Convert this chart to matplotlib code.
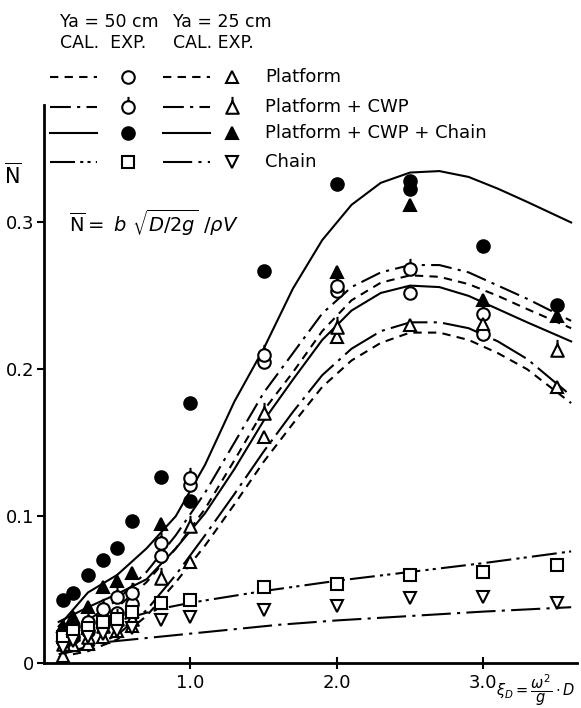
import matplotlib
matplotlib.use('Agg')
import matplotlib.pyplot as plt
from matplotlib.lines import Line2D
from matplotlib.path import Path

# calculated curves (CAL.)
CAL_X = [0.1, 0.3, 0.5, 0.7, 0.9, 1.1, 1.3, 1.5, 1.7, 1.9, 2.1, 2.3, 2.5, 2.7, 2.9, 3.1, 3.3, 3.6]
PCC_50 = [0.025, 0.048, 0.060, 0.078, 0.100, 0.135, 0.178, 0.214, 0.255, 0.288, 0.312, 0.327, 0.334, 0.335, 0.331, 0.323, 0.314, 0.300]
PLAT_50 = [0.015, 0.025, 0.038, 0.055, 0.078, 0.105, 0.138, 0.172, 0.198, 0.226, 0.247, 0.259, 0.264, 0.263, 0.258, 0.250, 0.241, 0.228]
PCWP_50 = [0.017, 0.029, 0.043, 0.062, 0.087, 0.116, 0.150, 0.184, 0.211, 0.238, 0.256, 0.266, 0.271, 0.271, 0.266, 0.257, 0.248, 0.233]
PCC_25 = [0.028, 0.038, 0.047, 0.057, 0.078, 0.102, 0.132, 0.165, 0.193, 0.220, 0.240, 0.252, 0.257, 0.256, 0.250, 0.241, 0.232, 0.219]
PLAT_25 = [0.004, 0.008, 0.016, 0.032, 0.055, 0.080, 0.108, 0.137, 0.163, 0.188, 0.206, 0.218, 0.225, 0.225, 0.220, 0.211, 0.200, 0.177]
PCWP_25 = [0.006, 0.010, 0.019, 0.036, 0.060, 0.087, 0.115, 0.144, 0.171, 0.196, 0.214, 0.226, 0.232, 0.232, 0.228, 0.219, 0.207, 0.182]

CHAIN50_X = [0.55, 0.8, 1.0, 1.5, 2.0, 2.5, 3.0, 3.6]
CHAIN_50 = [0.030, 0.037, 0.041, 0.049, 0.056, 0.062, 0.068, 0.076]
CHAIN25_X = [0.15, 0.4, 0.8, 1.2, 1.6, 2.0, 2.5, 3.0, 3.6]
CHAIN_25 = [0.007, 0.014, 0.018, 0.022, 0.026, 0.029, 0.032, 0.035, 0.038]

# experiments (EXP.)
EXP_X = [0.13, 0.2, 0.3, 0.4, 0.5, 0.6, 0.8, 1.0, 1.5, 2.0, 2.5, 3.0]
PLAT50_EXP = [0.015, 0.018, 0.022, 0.030, 0.034, 0.040, 0.073, 0.121, 0.205, 0.253, 0.252, 0.224]
PCWP50_EXP = [0.020, 0.025, 0.028, 0.037, 0.045, 0.048, 0.082, 0.126, 0.210, 0.257, 0.268, 0.238]
PCC50_X = [0.13, 0.2, 0.3, 0.4, 0.5, 0.6, 0.8, 1.0, 1.0, 1.5, 2.0, 2.5, 2.5, 3.0, 3.5]
PCC50_EXP = [0.043, 0.048, 0.060, 0.070, 0.078, 0.097, 0.127, 0.177, 0.110, 0.267, 0.326, 0.328, 0.323, 0.284, 0.244]
PLAT25_X = [0.13, 0.2, 0.3, 0.4, 0.5, 0.6, 0.8, 1.0, 1.5, 2.0, 2.5, 3.0, 3.5]
PLAT25_EXP = [0.005, 0.012, 0.013, 0.018, 0.022, 0.025, 0.041, 0.069, 0.154, 0.222, 0.230, 0.231, 0.188]
PCWP25_X = [0.13, 0.2, 0.3, 0.4, 0.5, 0.6, 0.8, 1.0, 1.5, 2.0, 3.5]
PCWP25_EXP = [0.013, 0.020, 0.018, 0.025, 0.030, 0.030, 0.058, 0.093, 0.170, 0.229, 0.213]
PCC25_X = [0.13, 0.2, 0.3, 0.4, 0.5, 0.6, 0.8, 2.0, 2.5, 3.0, 3.5]
PCC25_EXP = [0.025, 0.031, 0.038, 0.052, 0.056, 0.061, 0.095, 0.266, 0.312, 0.247, 0.236]
CHAIN_EXP_X = [0.13, 0.2, 0.3, 0.4, 0.5, 0.6, 0.8, 1.0, 1.5, 2.0, 2.5, 3.0, 3.5]
CHAIN50_EXP = [0.018, 0.022, 0.024, 0.028, 0.030, 0.035, 0.041, 0.043, 0.052, 0.054, 0.060, 0.062, 0.067]
CHAIN25_EXP = [0.010, 0.015, 0.018, 0.020, 0.022, 0.024, 0.029, 0.031, 0.036, 0.039, 0.044, 0.045, 0.041]

LEGEND_LABELS = ['Platform', 'Platform + CWP', 'Platform + CWP + Chain', 'Chain']

plt.rcParams['font.family'] = ['DejaVu Sans']
plt.rcParams['mathtext.fontset'] = 'dejavusans'

DASHED = (0, (4, 3))
DASHDOT = (0, (10, 3, 1.5, 3))
LONGDASHDOT = (0, (18, 3, 1.5, 3))
SOLID = '-'
CHAIN = (0, (12, 2.5, 1.5, 2, 1.5, 2.5))
CHAIN2 = (0, (14, 3, 1.5, 3))

# circle / triangle with a small tick on top (size factor 1.7 vs plain markers)
MS = 9
TICK_MS = MS * 1.7
CIRC_TICK = Path.make_compound_path(Path.unit_circle(),
                                    Path([[0, 1.0], [0, 1.7]], [Path.MOVETO, Path.LINETO]))
tri = Path([[-1, -1], [1, -1], [0, 1], [-1, -1]],
           [Path.MOVETO, Path.LINETO, Path.LINETO, Path.CLOSEPOLY])
TRI_TICK = Path.make_compound_path(tri, Path([[0, 1.0], [0, 1.7]], [Path.MOVETO, Path.LINETO]))

fig = plt.figure(figsize=(5.81, 7.08), dpi=100)
ax = fig.add_axes([44 / 581, 45 / 708, (577 - 44) / 581, (663 - 105) / 708])

lw = 1.5
ax.plot(CAL_X, PCC_50, color='k', lw=lw, ls=SOLID)
ax.plot(CAL_X, PLAT_50, color='k', lw=lw, ls=DASHED)
ax.plot(CAL_X, PCWP_50, color='k', lw=lw, ls=DASHDOT)
ax.plot(CAL_X, PCC_25, color='k', lw=lw, ls=SOLID)
ax.plot(CAL_X, PLAT_25, color='k', lw=lw, ls=DASHED)
ax.plot(CAL_X, PCWP_25, color='k', lw=lw, ls=LONGDASHDOT)
ax.plot(CHAIN50_X, CHAIN_50, color='k', lw=lw, ls=CHAIN)
ax.plot(CHAIN25_X, CHAIN_25, color='k', lw=lw, ls=CHAIN2)

mk = dict(ls='none', color='k', mew=1.5)
ax.plot(EXP_X, PLAT50_EXP, marker='o', ms=MS, mfc='white', **mk)
ax.plot(EXP_X, PCWP50_EXP, marker=CIRC_TICK, ms=TICK_MS, mfc='white', **mk)
ax.plot(PCC50_X, PCC50_EXP, marker='o', ms=MS, mfc='k', **mk)
ax.plot(PLAT25_X, PLAT25_EXP, marker='^', ms=MS, mfc='white', **mk)
ax.plot(PCWP25_X, PCWP25_EXP, marker=TRI_TICK, ms=TICK_MS, mfc='white', **mk)
ax.plot(PCC25_X, PCC25_EXP, marker='^', ms=MS, mfc='k', **mk)
ax.plot(CHAIN_EXP_X, CHAIN50_EXP, marker='s', ms=MS - 1, mfc='white', **mk)
ax.plot(CHAIN_EXP_X, CHAIN25_EXP, marker='v', ms=MS, mfc='white', **mk)

ax.set_xlim(0, 3.64)
ax.set_ylim(0, 0.38)
ax.spines['top'].set_visible(False)
ax.spines['right'].set_visible(False)
ax.spines['left'].set_linewidth(2)
ax.spines['bottom'].set_linewidth(2)
ax.set_xticks([1.0, 2.0, 3.0])
ax.set_xticklabels(['1.0', '2.0', '3.0'])
ax.set_yticks([0, 0.1, 0.2, 0.3])
ax.set_yticklabels(['0', '0.1', '0.2', '0.3'])
ax.tick_params(axis='x', direction='inout', length=8, width=1.5, labelsize=13, pad=4)
ax.tick_params(axis='y', direction='out', length=5, width=1.5, labelsize=13, pad=2)

ax.text(0.17, 0.3, r'$\overline{\mathrm{N}}=\ b\ \sqrt{D/2g}\ /\rho V$', fontsize=14, va='center')
fig.text(13 / 581, 1 - 175 / 708, r'$\overline{\mathrm{N}}$', fontsize=15, ha='center', va='center')
fig.text(496 / 581, 1 - 690 / 708, r'$\xi_D=\dfrac{\omega^2}{g}\cdot D$', fontsize=10.5, ha='left', va='center')

# legend block
def fx(px):
    return px / 581

def fy(py):
    return 1 - py / 708

fig.text(fx(60), fy(22), 'Ya = 50 cm', fontsize=12.5, va='center')
fig.text(fx(173), fy(22), 'Ya = 25 cm', fontsize=12.5, va='center')
fig.text(fx(60), fy(43), 'CAL.  EXP.', fontsize=12.5, va='center')
fig.text(fx(173), fy(43), 'CAL. EXP.', fontsize=12.5, va='center')

rows_y = [77, 107, 133, 162]
styles50 = [DASHED, DASHDOT, SOLID, CHAIN]
styles25 = [DASHED, DASHDOT, SOLID, CHAIN2]
marks50 = [('o', 'white', MS), (CIRC_TICK, 'white', TICK_MS), ('o', 'k', MS), ('s', 'white', MS - 1)]
marks25 = [('^', 'white', MS), (TRI_TICK, 'white', TICK_MS), ('^', 'k', MS), ('v', 'white', MS)]
for i, yy in enumerate(rows_y):
    fig.add_artist(Line2D([fx(50), fx(97)], [fy(yy), fy(yy)], color='k', lw=lw, ls=styles50[i],
                          transform=fig.transFigure))
    m, fc, s = marks50[i]
    fig.add_artist(Line2D([fx(128)], [fy(yy)], marker=m, ms=s, mfc=fc, mec='k', mew=1.5, ls='none',
                          transform=fig.transFigure))
    fig.add_artist(Line2D([fx(163), fx(210)], [fy(yy), fy(yy)], color='k', lw=lw, ls=styles25[i],
                          transform=fig.transFigure))
    m, fc, s = marks25[i]
    fig.add_artist(Line2D([fx(232)], [fy(yy)], marker=m, ms=s, mfc=fc, mec='k', mew=1.5, ls='none',
                          transform=fig.transFigure))
    fig.text(fx(265), fy(yy), LEGEND_LABELS[i], fontsize=13, va='center')

fig.savefig('out.png', dpi=100)
